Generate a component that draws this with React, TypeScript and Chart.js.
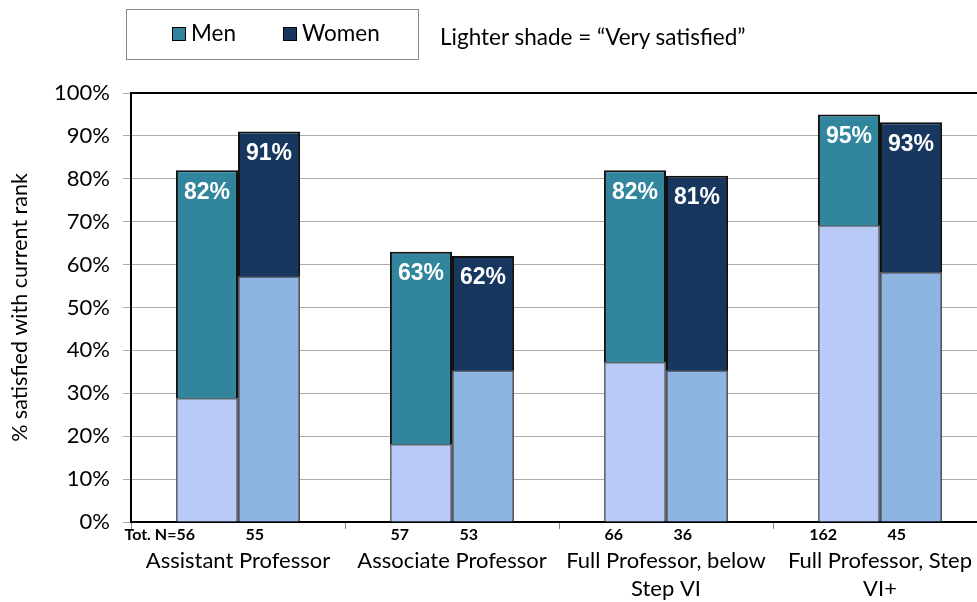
import React, { useEffect, useRef } from "react";
import { Chart, registerables } from "chart.js";

Chart.register(...registerables);

const categories: (string | string[])[] = [
  "Assistant Professor",
  "Associate Professor",
  ["Full Professor, below", "Step VI"],
  ["Full Professor, Step", "VI+"],
];
const menTotal = [82, 63, 82, 95];
const womenTotal = [91, 62, 80.7, 93.2];
const menVerySatisfied = [28.9, 18.2, 37.3, 69.2];
const womenVerySatisfied = [57.3, 35.4, 35.4, 58.3];
const menN = [56, 57, 66, 162];
const womenN = [55, 53, 36, 45];
const yTicks = [0, 10, 20, 30, 40, 50, 60, 70, 80, 90, 100];

const MEN_DARK = "#31859C";
const WOMEN_DARK = "#17375E";
const MEN_LIGHT = "#B9CAF8";
const WOMEN_LIGHT = "#8EB4E2";
const FONT = "Lato";

const framePlugin = {
  id: "frame",
  beforeDatasetsDraw(chart: any) {
    const { ctx, chartArea } = chart;
    ctx.save();
    ctx.strokeStyle = "#000";
    ctx.lineWidth = 2;
    ctx.beginPath();
    ctx.moveTo(chartArea.left, chartArea.top);
    ctx.lineTo(chartArea.right, chartArea.top);
    ctx.lineTo(chartArea.right, chartArea.bottom);
    ctx.stroke();
    ctx.restore();
  },
};

const labelPlugin = {
  id: "labels",
  afterDatasetsDraw(chart: any) {
    const { ctx } = chart;
    ctx.save();
    ctx.fillStyle = "#fff";
    ctx.font = "bold 23px 'Liberation Sans'";
    ctx.textAlign = "center";
    ctx.textBaseline = "middle";
    [2, 3].forEach((di) => {
      const meta = chart.getDatasetMeta(di);
      const vals = chart.data.datasets[di].data as number[];
      meta.data.forEach((bar: any, i: number) => {
        ctx.fillText(Math.round(vals[i]) + "%", bar.x, bar.y + 22);
      });
    });
    ctx.restore();
  },
  afterDraw(chart: any) {
    const { ctx, chartArea } = chart;
    ctx.save();
    ctx.fillStyle = "#000";
    ctx.font = `bold 16px ${FONT}`;
    ctx.textBaseline = "middle";
    ctx.textAlign = "right";
    const y = chartArea.bottom + 13;
    const menMeta = chart.getDatasetMeta(0);
    const womenMeta = chart.getDatasetMeta(1);
    menMeta.data.forEach((bar: any, i: number) => {
      const txt = (i === 0 ? "Tot. N=" : "") + menN[i];
      ctx.fillText(txt, bar.x - 12, y);
    });
    womenMeta.data.forEach((bar: any, i: number) => {
      ctx.fillText(String(womenN[i]), bar.x - 5, y);
    });
    ctx.restore();
  },
};

export default function App() {
  const ref = useRef<HTMLCanvasElement>(null);
  useEffect(() => {
    if (!ref.current) return;
    const chart = new Chart(ref.current, {
      type: "bar",
      data: {
        labels: categories as any,
        datasets: [
          {
            label: "Men very satisfied",
            data: menVerySatisfied,
            backgroundColor: MEN_LIGHT,
            borderColor: "#666",
            borderWidth: 1.5,
            stack: "men",
          },
          {
            label: "Women very satisfied",
            data: womenVerySatisfied,
            backgroundColor: WOMEN_LIGHT,
            borderColor: "#555",
            borderWidth: 1.5,
            stack: "women",
          },
          {
            label: "Men",
            data: menTotal,
            backgroundColor: MEN_DARK,
            borderColor: "#111",
            borderWidth: 2,
            stack: "men",
          },
          {
            label: "Women",
            data: womenTotal,
            backgroundColor: WOMEN_DARK,
            borderColor: "#111",
            borderWidth: 2,
            stack: "women",
          },
        ],
      },
      options: {
        responsive: false,
        animation: false,
        layout: { padding: { top: 93, right: 13, left: 0, bottom: 0 } },
        datasets: {
          bar: { categoryPercentage: 0.58, barPercentage: 1 },
        } as any,
        plugins: {
          legend: { display: false },
          tooltip: { enabled: false },
        },
        scales: {
          x: {
            stacked: true,
            grid: { drawOnChartArea: false, tickLength: 7, color: "#888", offset: true },
            border: { color: "#000", width: 2 },
            ticks: {
              color: "#000",
              font: { family: FONT, size: 22, lineHeight: 1.27 },
              padding: 18,
              maxRotation: 0,
              autoSkip: false,
            },
            afterFit(scale: any) {
              scale.height = 80;
            },
          },
          y: {
            stacked: false,
            min: 0,
            max: 100,
            afterBuildTicks(scale: any) {
              scale.ticks = yTicks.map((v) => ({ value: v }));
            },
            grid: { color: "#AAAAAA", tickLength: 8, lineWidth: 1 },
            border: { color: "#000", width: 2 },
            ticks: {
              color: "#000",
              font: { family: FONT, size: 22 },
              padding: 13,
              callback: (v: any) => v + "%",
            },
            title: {
              display: true,
              text: "% satisfied with current rank",
              color: "#000",
              font: { family: FONT, size: 21.5 },
              padding: { top: 7, bottom: 0 },
            },
            afterFit(scale: any) {
              scale.width = 131;
            },
          },
        },
      },
      plugins: [framePlugin, labelPlugin],
    });
    return () => chart.destroy();
  }, []);

  const txt: React.CSSProperties = {
    position: "absolute",
    fontFamily: FONT,
    fontSize: 22.5,
    lineHeight: "26px",
    color: "#000",
    whiteSpace: "nowrap",
  };
  const sq = (c: string): React.CSSProperties => ({
    position: "absolute",
    width: 12,
    height: 12,
    background: c,
    border: "1.5px solid #000",
  });

  return (
    <div
      style={{
        position: "fixed",
        left: 0,
        top: 0,
        width: 977,
        height: 602,
        overflow: "hidden",
        background: "#fff",
      }}
    >
      <canvas
        ref={ref}
        width={1000}
        height={602}
        style={{ position: "absolute", left: 0, top: 0, width: 1000, height: 602 }}
      />
      <div
        style={{
          position: "absolute",
          left: 126,
          top: 9,
          width: 291,
          height: 49,
          border: "1px solid #888",
          background: "#fff",
        }}
      />
      <div style={{ ...sq(MEN_DARK), left: 172, top: 27 }} />
      <div style={{ ...txt, left: 191, top: 20 }}>Men</div>
      <div style={{ ...sq(WOMEN_DARK), left: 283, top: 27 }} />
      <div style={{ ...txt, left: 302, top: 20 }}>Women</div>
      <div style={{ ...txt, left: 440, top: 24 }}>Lighter shade = “Very satisfied”</div>
    </div>
  );
}
